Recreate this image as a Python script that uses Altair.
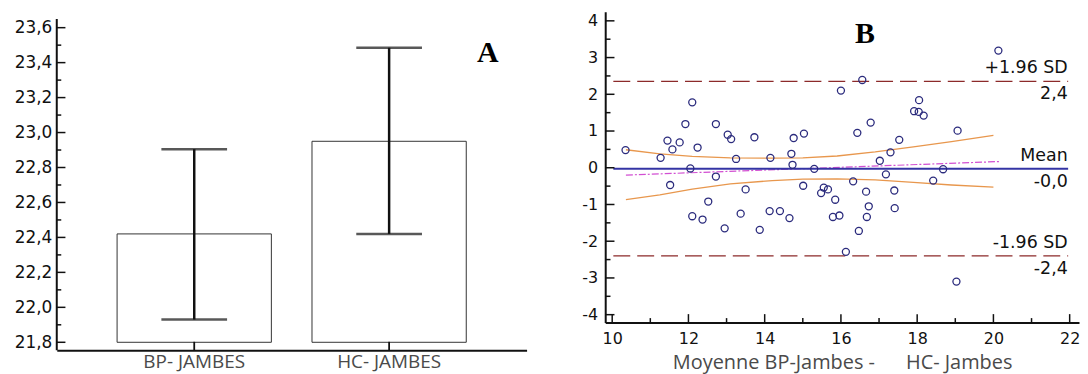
import altair as alt
import pandas as pd

# ---------------- Panel A data ----------------
categories = ["BP- JAMBES", "HC- JAMBES"]
means = [22.42, 22.95]
ci_low = [21.93, 22.42]
ci_high = [22.905, 23.485]
bar_base = 21.8
a_major = [21.8, 22.0, 22.2, 22.4, 22.6, 22.8, 23.0, 23.2, 23.4, 23.6]
a_minor = [21.9, 22.1, 22.3, 22.5, 22.7, 22.9, 23.1, 23.3, 23.5]
a_axis_top = 23.65

# ---------------- Panel B data ----------------
bx = [10.35, 11.27, 11.45, 11.58, 11.52, 11.77, 11.92, 12.10, 12.05, 12.24,
      12.10, 12.37, 12.52, 12.72, 12.72, 12.95, 13.03, 13.12, 13.25, 13.37,
      13.50, 13.73, 13.87, 14.13, 14.15, 14.40, 14.65, 14.70, 14.73, 14.76,
      15.01, 15.03, 15.30, 15.48, 15.55, 15.66, 15.85, 15.79, 15.96, 16.00,
      16.13, 16.32, 16.43, 16.47, 16.56, 16.66, 16.68, 16.73, 16.78, 17.02,
      17.18, 17.30, 17.40, 17.41, 17.53, 17.92, 18.05, 18.04, 18.17, 18.42,
      18.68, 19.06, 19.03, 20.13]
by = [0.48, 0.27, 0.74, 0.50, -0.47, 0.69, 1.19, 1.78, -0.02, 0.55,
      -1.32, -1.41, -0.92, 1.19, -0.24, -1.65, 0.90, 0.78, 0.24, -1.25,
      -0.59, 0.83, -1.69, -1.18, 0.27, -1.18, -1.37, 0.38, 0.08, 0.81,
      -0.49, 0.93, -0.03, -0.69, -0.54, -0.59, -0.87, -1.34, -1.30, 2.10,
      -2.29, -0.37, 0.95, -1.72, 2.39, -0.65, -1.34, -1.05, 1.23, 0.19,
      -0.18, 0.42, -0.62, -1.10, 0.76, 1.54, 1.84, 1.52, 1.42, -0.35,
      -0.04, 1.01, -3.10, 3.19]
mean_diff = -0.03
upper_loa = 2.35
lower_loa = -2.40
limit_x = [10.03, 21.96]
reg_x = [10.36, 20.18]
reg_y = [-0.20, 0.17]
ci_x = [10.36, 11.25, 12.1, 13.1, 14.2, 15.0, 15.9, 16.9, 17.9, 18.9, 20.0]
ci_upper = [0.49, 0.38, 0.31, 0.27, 0.26, 0.27, 0.32, 0.43, 0.57, 0.71, 0.88]
ci_lower = [-0.87, -0.74, -0.58, -0.44, -0.35, -0.31, -0.30, -0.33, -0.40, -0.47, -0.53]
b_major_y = [-4, -3, -2, -1, 0, 1, 2, 3, 4]
b_minor_y = [-3.5, -2.5, -1.5, -0.5, 0.5, 1.5, 2.5, 3.5]
b_major_x = [10, 12, 14, 16, 18, 20, 22]
b_minor_x = [11, 13, 15, 17, 19, 21]
label_x = 21.95
x_title = "Moyenne BP-Jambes -\u00a0\u00a0\u00a0\u00a0\u00a0\u00a0HC- Jambes"


def fmt(v):
    return f"{v:.1f}".replace(".", ",")


AXIS_COLOR = "#111111"
GRAY = "#4a4a4a"

# ================= Panel A =================
A_W, A_H = 472, 340
ysA = alt.Scale(domain=[21.7544, 23.6906], nice=False, zero=False)
xsA = alt.Scale(domain=categories, paddingInner=0.2084, paddingOuter=0.3095)
axXA = alt.Axis(title=None, labelAngle=0, ticks=False, labelPadding=2,
                labelFont="Open Sans", labelFontSize=19, labelColor=GRAY,
                domainColor=AXIS_COLOR, domainWidth=2, grid=False)
axYA = alt.Axis(title=None, values=a_major, ticks=False, domain=False, grid=False,
                labelExpr="replace(format(datum.value, '.1f'), '.', ',')",
                labelFont="DejaVu Sans", labelFontSize=17, labelColor=AXIS_COLOR,
                labelPadding=5, minExtent=49, maxExtent=49)


def XA(field="cat:N"):
    return alt.X(field, scale=xsA, sort=categories, axis=axXA)


def YA(field):
    return alt.Y(field, scale=ysA, axis=axYA)


dfA = pd.DataFrame({"cat": categories, "mean": means, "lo": ci_low,
                    "hi": ci_high, "base": [bar_base] * len(categories)})

bars = alt.Chart(dfA).mark_bar(fill="white", stroke="#333333", strokeWidth=1).encode(
    x=XA(), y=YA("mean:Q"), y2="base:Q")
err = alt.Chart(dfA).mark_rule(color="#111111", strokeWidth=2.5).encode(
    x=XA(), y=YA("lo:Q"), y2="hi:Q")
cap_lo = alt.Chart(dfA).mark_tick(color="#111111", thickness=2.5, size=66).encode(
    x=XA(), y=YA("lo:Q"))
cap_hi = alt.Chart(dfA).mark_tick(color="#111111", thickness=2.5, size=66).encode(
    x=XA(), y=YA("hi:Q"))

a_yline = alt.Chart(pd.DataFrame({"top": [a_axis_top]})).mark_rule(
    color=AXIS_COLOR, strokeWidth=2).encode(
    x=alt.value(0), y=YA("top:Q"), y2=alt.value(A_H))
a_major_ticks = alt.Chart(pd.DataFrame({"v": a_major})).mark_rule(
    color=AXIS_COLOR, strokeWidth=1.5).encode(
    y=YA("v:Q"), x=alt.value(0), x2=alt.value(8.7))
a_minor_ticks = alt.Chart(pd.DataFrame({"v": a_minor})).mark_rule(
    color=AXIS_COLOR, strokeWidth=1.5).encode(
    y=YA("v:Q"), x=alt.value(0), x2=alt.value(4.5))
a_cat_ticks = alt.Chart(dfA).mark_rule(color=AXIS_COLOR, strokeWidth=1.8).encode(
    x=XA(), y=alt.value(A_H), y2=alt.value(A_H - 8.5))

a_letter = alt.Chart(pd.DataFrame({"cat": [categories[1]], "y": [23.402], "t": ["A"]})).mark_text(
    font="Liberation Serif", fontWeight="bold", fontSize=30, color="#000000",
    align="center", baseline="alphabetic", dx=99).encode(
    x=XA(), y=YA("y:Q"), text="t:N")

panelA = alt.layer(bars, err, cap_lo, cap_hi, a_yline, a_major_ticks, a_minor_ticks,
                   a_cat_ticks, a_letter).properties(width=A_W, height=A_H)

# ================= Panel B =================
B_W, B_H = 476, 312
xsB = alt.Scale(domain=[9.817, 22.245], nice=False, zero=False)
ysB = alt.Scale(domain=[-4.21, 4.245], nice=False, zero=False)
axXB = alt.Axis(title=x_title, values=b_major_x, ticks=False, labelPadding=8, grid=False,
                labelExpr="'' + datum.value",
                labelFont="DejaVu Sans", labelFontSize=16, labelColor=AXIS_COLOR,
                domainColor=AXIS_COLOR, domainWidth=2,
                titleFont="Open Sans", titleFontSize=20, titleFontWeight="normal",
                titleColor=GRAY, titleY=46.5, titleBaseline="alphabetic")
axYB = alt.Axis(title=None, values=b_major_y, ticks=False, labelPadding=7.5, grid=False,
                labelExpr="'' + datum.value",
                labelFont="DejaVu Sans", labelFontSize=16, labelColor=AXIS_COLOR,
                domainColor=AXIS_COLOR, domainWidth=2,
                minExtent=40, maxExtent=40)


def XB(field):
    return alt.X(field, scale=xsB, axis=axXB)


def YB(field):
    return alt.Y(field, scale=ysB, axis=axYB)


dfPts = pd.DataFrame({"x": bx, "y": by})
dfCI = pd.DataFrame({"x": ci_x, "up": ci_upper, "lo": ci_lower})
dfReg = pd.DataFrame({"x": reg_x, "y": reg_y})
dfLim = pd.DataFrame({"x1": [limit_x[0]] * 2, "x2": [limit_x[1]] * 2,
                      "y": [upper_loa, lower_loa]})
dfMean = pd.DataFrame({"x1": [limit_x[0]], "x2": [limit_x[1]], "y": [mean_diff]})

ci_up_line = alt.Chart(dfCI).mark_line(color="#e8974d", strokeWidth=1.3).encode(
    x=XB("x:Q"), y=YB("up:Q"))
ci_lo_line = alt.Chart(dfCI).mark_line(color="#e8974d", strokeWidth=1.3).encode(
    x=XB("x:Q"), y=YB("lo:Q"))
reg_line = alt.Chart(dfReg).mark_line(color="#d24fd2", strokeWidth=1.2,
                                      strokeDash=[7, 2, 2, 2]).encode(
    x=XB("x:Q"), y=YB("y:Q"))
lim_lines = alt.Chart(dfLim).mark_rule(color="#8c2a2a", strokeWidth=1.3,
                                       strokeDash=[17, 7]).encode(
    x=XB("x1:Q"), x2="x2:Q", y=YB("y:Q"))
mean_line = alt.Chart(dfMean).mark_rule(color="#3434a4", strokeWidth=2).encode(
    x=XB("x1:Q"), x2="x2:Q", y=YB("y:Q"))
pts = alt.Chart(dfPts).mark_point(shape="circle", filled=False, size=50,
                                  strokeWidth=1.3, color="#2b2b7d", opacity=1).encode(
    x=XB("x:Q"), y=YB("y:Q"))

dfLabAbove = pd.DataFrame({"x": [label_x] * 3, "y": [upper_loa, mean_diff, lower_loa],
                           "t": ["+1.96 SD", "Mean", "-1.96 SD"]})
dfLabBelow = pd.DataFrame({"x": [label_x] * 3, "y": [upper_loa, mean_diff, lower_loa],
                           "t": [fmt(upper_loa), fmt(mean_diff), fmt(lower_loa)]})
lab_above = alt.Chart(dfLabAbove).mark_text(
    font="DejaVu Sans", fontSize=17.5, color="#111111", align="right",
    baseline="alphabetic", dy=-8).encode(x=XB("x:Q"), y=YB("y:Q"), text="t:N")
lab_below = alt.Chart(dfLabBelow).mark_text(
    font="DejaVu Sans", fontSize=17.5, color="#111111", align="right",
    baseline="alphabetic", dy=18).encode(x=XB("x:Q"), y=YB("y:Q"), text="t:N")

b_letter = alt.Chart(pd.DataFrame({"x": [16.63], "y": [3.39], "t": ["B"]})).mark_text(
    font="Liberation Serif", fontWeight="bold", fontSize=30, color="#000000",
    align="center", baseline="alphabetic").encode(x=XB("x:Q"), y=YB("y:Q"), text="t:N")

b_y_major = alt.Chart(pd.DataFrame({"v": b_major_y})).mark_rule(
    color=AXIS_COLOR, strokeWidth=1.5).encode(
    y=YB("v:Q"), x=alt.value(0), x2=alt.value(9.3))
b_y_minor = alt.Chart(pd.DataFrame({"v": b_minor_y})).mark_rule(
    color=AXIS_COLOR, strokeWidth=1.5).encode(
    y=YB("v:Q"), x=alt.value(0), x2=alt.value(5.3))
b_x_major = alt.Chart(pd.DataFrame({"v": b_major_x})).mark_rule(
    color=AXIS_COLOR, strokeWidth=1.5).encode(
    x=XB("v:Q"), y=alt.value(B_H), y2=alt.value(B_H - 8.3))
b_x_minor = alt.Chart(pd.DataFrame({"v": b_minor_x})).mark_rule(
    color=AXIS_COLOR, strokeWidth=1.5).encode(
    x=XB("v:Q"), y=alt.value(B_H), y2=alt.value(B_H - 4.3))

panelB = alt.layer(ci_up_line, ci_lo_line, reg_line, lim_lines, mean_line, pts,
                   lab_above, lab_below, b_letter,
                   b_y_major, b_y_minor, b_x_major, b_x_minor).properties(width=B_W, height=B_H)

chart = alt.hconcat(panelA, panelB, spacing=39).properties(
    padding={"left": 0, "top": 3, "right": 0, "bottom": 0}
).configure_view(stroke=None).configure_axis(grid=False)

chart.save("out.html", embed_options={"renderer": "svg", "actions": False})
